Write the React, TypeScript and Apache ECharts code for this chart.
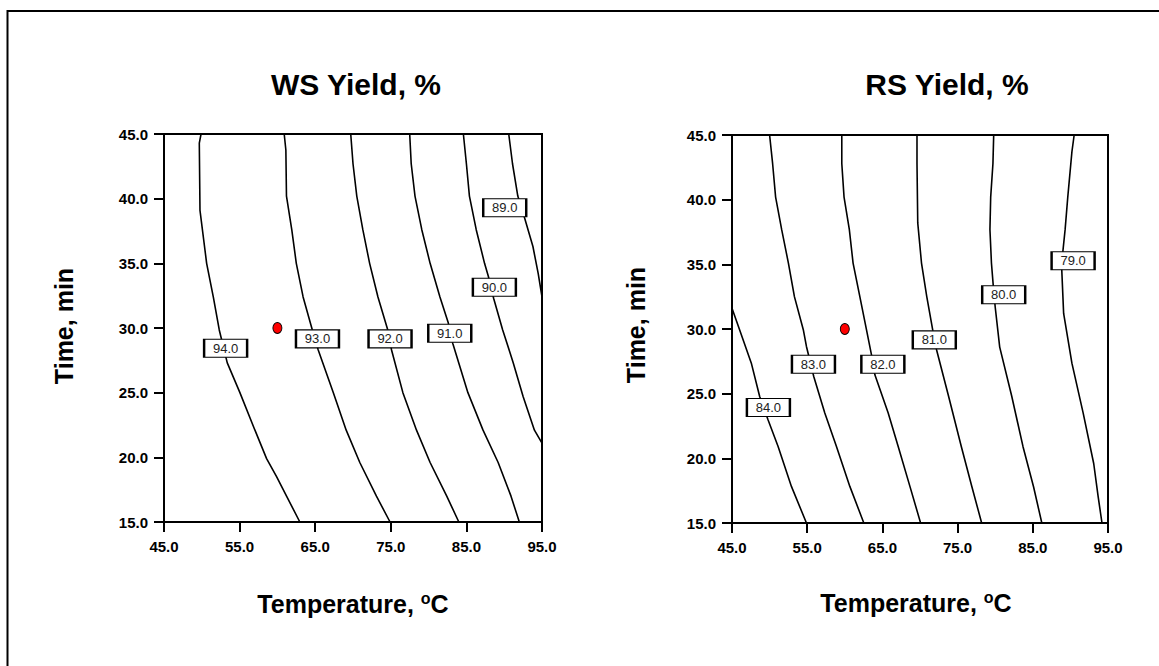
import React, { useEffect, useRef } from "react";
import * as echarts from "echarts";

// ---- Data: [temperature °C, time min] ----
const xTicks = [45, 55, 65, 75, 85, 95];
const yTicks = [15, 20, 25, 30, 35, 40, 45];

// WS Yield contours
const ws94: number[][] = [[49.9, 45.0], [49.67, 44.3], [49.76, 39.1], [50.64, 35.0], [51.52, 32.4], [52.31, 29.85], [53.37, 27.3], [55.04, 25.0], [57.03, 22.1], [58.57, 19.9], [59.89, 18.5], [61.21, 17.0], [62.97, 15.0]];
const ws93: number[][] = [[60.9, 45.0], [61.12, 43.76], [61.2, 40.2], [61.9, 37.6], [62.5, 35.0], [63.4, 32.4], [64.5, 30.1], [65.4, 28.3], [67.4, 25.0], [69.1, 22.1], [70.9, 19.6], [73.1, 17.0], [74.9, 15.0]];
const ws92: number[][] = [[69.7, 45.0], [70.0, 42.7], [70.5, 40.2], [71.3, 37.6], [72.2, 35.0], [73.3, 32.4], [74.6, 29.85], [75.1, 28.3], [76.6, 25.0], [78.4, 22.1], [80.2, 19.6], [82.4, 17.0], [84.0, 15.0]];
const ws91: number[][] = [[77.5, 45.0], [77.7, 42.7], [78.2, 40.2], [79.1, 37.6], [80.2, 35.0], [81.5, 32.4], [82.6, 30.4], [83.2, 28.8], [85.2, 25.0], [87.2, 22.1], [89.2, 19.6], [90.9, 17.0], [92.0, 15.0]];
const ws90: number[][] = [[84.6, 45.0], [85.0, 42.7], [85.4, 40.2], [86.3, 37.6], [87.4, 35.0], [87.9, 34.0], [88.6, 32.3], [89.8, 29.85], [91.2, 27.3], [92.5, 24.7], [94.0, 22.1], [95.0, 21.1]];
const ws89: number[][] = [[90.6, 45.0], [91.1, 42.7], [91.8, 40.2], [92.7, 38.5], [93.8, 36.3], [94.5, 34.2], [95.0, 32.4]];
// label boxes: [temperature, time, level]
const wsLabels: number[][] = [[53.15, 28.44, 94.0], [65.3, 29.16, 93.0], [74.9, 29.16, 92.0], [82.8, 29.6, 91.0], [88.7, 33.15, 90.0], [90.07, 39.3, 89.0]];

// RS Yield contours
const rs84: number[][] = [[45.0, 31.6], [46.02, 29.93], [47.57, 27.36], [48.68, 24.78], [49.79, 22.98], [51.13, 20.92], [52.9, 17.83], [54.9, 15.0]];
const rs83: number[][] = [[50.0, 45.0], [50.4, 42.8], [50.8, 40.2], [51.6, 37.7], [52.5, 35.1], [53.3, 32.5], [54.5, 29.9], [54.9, 28.65], [55.87, 26.33], [57.34, 23.5], [58.89, 20.92], [60.67, 17.83], [62.53, 15.0]];
const rs82: number[][] = [[59.6, 45.0], [59.6, 42.8], [59.9, 40.2], [60.6, 37.7], [61.1, 35.1], [62.0, 32.5], [62.9, 29.9], [63.55, 28.0], [64.0, 26.46], [65.77, 23.5], [67.1, 20.92], [68.66, 17.83], [70.08, 15.0]];
const rs81: number[][] = [[69.6, 45.0], [69.6, 42.8], [69.7, 38.2], [70.2, 35.1], [70.9, 32.5], [71.7, 29.9], [72.2, 28.4], [73.8, 24.8], [75.5, 20.9], [76.9, 17.8], [78.2, 15.0]];
const rs80: number[][] = [[79.8, 45.0], [79.7, 42.8], [79.4, 40.2], [79.3, 37.7], [79.5, 35.1], [79.75, 33.3], [80.0, 31.7], [80.6, 28.6], [82.2, 24.8], [83.7, 20.9], [85.1, 17.8], [86.2, 15.0]];
const rs79: number[][] = [[90.5, 45.0], [90.2, 43.7], [89.65, 40.2], [89.3, 37.7], [89.0, 36.0], [88.85, 34.6], [89.1, 31.2], [90.2, 27.36], [91.7, 23.5], [93.1, 19.6], [93.7, 17.0], [94.2, 15.0]];
const rsLabels: number[][] = [[49.84, 23.93, 84.0], [55.83, 27.28, 83.0], [65.06, 27.28, 82.0], [71.9, 29.16, 81.0], [81.13, 32.64, 80.0], [90.36, 35.27, 79.0]];

// design (centre) point
const centerPoint: number[][] = [[60, 30]];

const wsContours = [ws94, ws93, ws92, ws91, ws90, ws89];
const rsContours = [rs84, rs83, rs82, rs81, rs80, rs79];

const FONT = 'Arial, "Liberation Sans", Helvetica, sans-serif';

function makeXAxis(gridIndex: number) {
  return {
    type: "value",
    gridIndex,
    min: 45,
    max: 95,
    interval: 10,
    splitLine: { show: false },
    axisLine: { show: true, lineStyle: { color: "#000", width: 2 } },
    axisTick: { show: true, inside: false, length: 10, lineStyle: { color: "#000", width: 2 }, customValues: xTicks },
    axisLabel: {
      show: true,
      margin: 17,
      color: "#000",
      fontSize: 15,
      fontWeight: "bold",
      fontFamily: FONT,
      customValues: xTicks,
      formatter: (v: number) => v.toFixed(1),
    },
  };
}

function makeYAxis(gridIndex: number) {
  return {
    type: "value",
    gridIndex,
    min: 15,
    max: 45,
    interval: 5,
    splitLine: { show: false },
    axisLine: { show: true, lineStyle: { color: "#000", width: 2 } },
    axisTick: { show: true, inside: false, length: 10, lineStyle: { color: "#000", width: 2 }, customValues: yTicks },
    axisLabel: {
      show: true,
      margin: 16,
      color: "#000",
      fontSize: 15,
      fontWeight: "bold",
      fontFamily: FONT,
      customValues: yTicks,
      formatter: (v: number) => v.toFixed(1),
    },
  };
}

function contourSeries(contours: number[][][], idx: number) {
  return contours.map((c) => ({
    type: "line",
    xAxisIndex: idx,
    yAxisIndex: idx,
    data: c,
    smooth: false,
    showSymbol: false,
    symbol: "none",
    lineStyle: { color: "#000", width: 1.6 },
    z: 2,
    silent: true,
  }));
}

function labelSeries(labels: number[][], idx: number) {
  return {
    type: "scatter",
    xAxisIndex: idx,
    yAxisIndex: idx,
    data: labels,
    symbol: "rect",
    symbolSize: [43, 18],
    itemStyle: { color: "#fff", borderColor: "#000", borderWidth: 1.6, opacity: 1 },
    label: {
      show: true,
      position: "inside",
      color: "#222",
      fontSize: 13,
      fontFamily: FONT,
      formatter: (p: any) => Number(p.value[2]).toFixed(1),
    },
    z: 4,
    silent: true,
  };
}

function pointSeries(idx: number) {
  return {
    type: "scatter",
    xAxisIndex: idx,
    yAxisIndex: idx,
    data: centerPoint,
    symbol: "path://M0,-1A1,1 0 1,1 0,1A1,1 0 1,1 0,-1Z",
    symbolSize: [9, 11],
    itemStyle: { color: "#ff0000", borderColor: "#000", borderWidth: 1, opacity: 1 },
    z: 5,
    silent: true,
  };
}

function tempTitle(x: number, y: number) {
  return {
    type: "text",
    x,
    y,
    style: {
      text: "{a|Temperature, }{s|o}{a|C}",
      textAlign: "center",
      textVerticalAlign: "middle",
      rich: {
        a: { fontSize: 25, fontWeight: "bold", fontFamily: FONT, fill: "#000", lineHeight: 28 },
        s: { fontSize: 16, fontWeight: "bold", fontFamily: FONT, fill: "#000", verticalAlign: "top", lineHeight: 16 },
      },
    },
  };
}

function timeTitle(x: number, y: number) {
  return {
    type: "text",
    x,
    y,
    rotation: Math.PI / 2,
    style: {
      text: "Time, min",
      textAlign: "center",
      textVerticalAlign: "middle",
      font: `bold 25px ${FONT}`,
      fill: "#000",
    },
  };
}

function mainTitle(text: string, x: number, y: number) {
  return {
    type: "text",
    x,
    y,
    style: {
      text,
      textAlign: "center",
      textVerticalAlign: "middle",
      font: `bold 30px ${FONT}`,
      fill: "#000",
    },
  };
}

export default function App() {
  const ref = useRef<HTMLDivElement>(null);

  useEffect(() => {
    if (!ref.current) return;
    const chart = echarts.init(ref.current, undefined, { renderer: "svg" });
    const option: any = {
      animation: false,
      backgroundColor: "#fff",
      grid: [
        { left: 164, top: 134, width: 378, height: 388, show: true, borderColor: "#000", borderWidth: 2, backgroundColor: "transparent" },
        { left: 732, top: 135, width: 376, height: 388, show: true, borderColor: "#000", borderWidth: 2, backgroundColor: "transparent" },
      ],
      xAxis: [makeXAxis(0), makeXAxis(1)],
      yAxis: [makeYAxis(0), makeYAxis(1)],
      series: [
        ...contourSeries(wsContours, 0),
        labelSeries(wsLabels, 0),
        pointSeries(0),
        ...contourSeries(rsContours, 1),
        labelSeries(rsLabels, 1),
        pointSeries(1),
      ],
      graphic: [
        {
          type: "rect",
          shape: { x: 7.5, y: 11, width: 1200, height: 700 },
          style: { fill: "none", stroke: "#000", lineWidth: 2 },
          silent: true,
        },
        mainTitle("WS Yield, %", 356, 84),
        mainTitle("RS Yield, %", 947, 84),
        timeTitle(64, 326),
        timeTitle(636, 325),
        tempTitle(353, 604),
        tempTitle(916, 603),
      ],
    };
    chart.setOption(option);
    return () => chart.dispose();
  }, []);

  return (
    <div
      ref={ref}
      style={{ position: "fixed", left: 0, top: 0, width: 1159, height: 666, background: "#fff" }}
    />
  );
}
